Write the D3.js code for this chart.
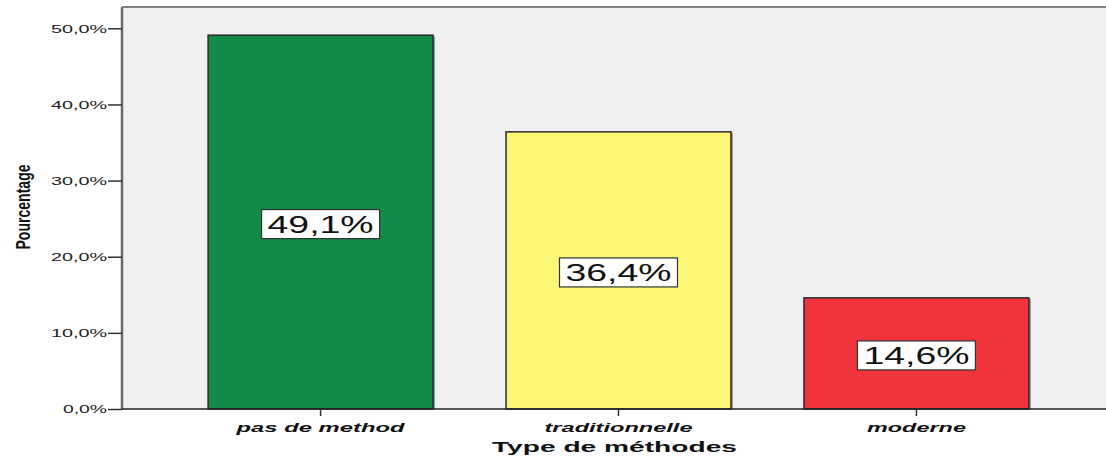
<!DOCTYPE html>
<html>
<head>
<meta charset="utf-8">
<script src="https://cdn.jsdelivr.net/npm/d3@7"></script>
<style>
  html, body { margin: 0; padding: 0; background: #fff; }
  svg { display: block; }
  text { font-family: "Liberation Sans", Arial, sans-serif; }
</style>
</head>
<body>
<svg id="chart" width="1106" height="456"></svg>
<script>
const categories = ["pas de method", "traditionnelle", "moderne"];
const values = [49.1, 36.4, 14.6];
const valueLabels = ["49,1%", "36,4%", "14,6%"];
const colors = ["#108b48", "#fbf775", "#f0323b"];
const yTicks = [0, 10, 20, 30, 40, 50];
const yTickLabels = ["0,0%", "10,0%", "20,0%", "30,0%", "40,0%", "50,0%"];
const xLabelWidths = [168, 148, 99];

(function () {
const svg = d3.select("#chart");
const pLeft = 122, pTop = 7, pBottom = 409, pRight = 1115;

const x = d3.scaleBand().domain(categories).range([pLeft, pRight])
  .paddingInner(0.245).paddingOuter(0.289);
const y = d3.scaleLinear().domain([0, 52.8]).range([pBottom, pTop]);

// plot background
svg.append("rect").attr("x", pLeft).attr("y", pTop)
  .attr("width", 1106 - pLeft).attr("height", pBottom - pTop)
  .attr("fill", "#f0f0f0");
// top & left borders
svg.append("line").attr("x1", pLeft).attr("x2", 1106).attr("y1", pTop).attr("y2", pTop)
  .attr("stroke", "#808080").attr("stroke-width", 2);
svg.append("line").attr("x1", pLeft).attr("x2", pLeft).attr("y1", pTop).attr("y2", pBottom)
  .attr("stroke", "#6a6a6a").attr("stroke-width", 2.5);

// y axis ticks
const yAxis = d3.axisLeft(y).tickValues(yTicks).tickSize(14)
  .tickFormat((d, i) => yTickLabels[i]);
const gy = svg.append("g").attr("transform", `translate(${pLeft},0)`).call(yAxis);
gy.select(".domain").remove();
gy.selectAll(".tick line").attr("stroke", "#333").attr("stroke-width", 1.5);
gy.selectAll(".tick text")
  .attr("x", -15).attr("dy", "0.32em")
  .attr("font-size", 11.5).attr("fill", "#222")
  .attr("textLength", (d, i) => yTickLabels[i].length === 5 ? 56 : 44)
  .attr("lengthAdjust", "spacingAndGlyphs")
  .style("font-family", "'Liberation Sans', Arial, sans-serif");

// bars shadow
svg.append("g").selectAll("rect").data(values).join("rect")
  .attr("x", (d, i) => x(categories[i]) + 2)
  .attr("y", d => y(d) + 1)
  .attr("width", x.bandwidth())
  .attr("height", d => pBottom - y(d) - 1)
  .attr("fill", "#9a9a9a");
// bars
svg.append("g").selectAll("rect").data(values).join("rect")
  .attr("x", (d, i) => x(categories[i]))
  .attr("y", d => y(d))
  .attr("width", x.bandwidth())
  .attr("height", d => pBottom - y(d))
  .attr("fill", (d, i) => colors[i])
  .attr("stroke", "#2a2a2a").attr("stroke-width", 1.5);

// value labels
const lab = svg.append("g").selectAll("g").data(values).join("g")
  .attr("transform", (d, i) => `translate(${x(categories[i]) + x.bandwidth() / 2},${y(d / 2) + 2})`);
lab.append("rect").attr("x", -59).attr("y", -14.5).attr("width", 118).attr("height", 29)
  .attr("fill", "#fff").attr("stroke", "#333").attr("stroke-width", 1.2);
lab.append("text").attr("text-anchor", "middle").attr("y", 8.5)
  .attr("font-size", 23).attr("fill", "#111")
  .attr("textLength", 106).attr("lengthAdjust", "spacingAndGlyphs")
  .text((d, i) => valueLabels[i]);

// x axis
svg.append("line").attr("x1", pLeft).attr("x2", 1106).attr("y1", pBottom).attr("y2", pBottom)
  .attr("stroke", "#222").attr("stroke-width", 1.5);
const xAxis = d3.axisBottom(x).tickSize(7).tickSizeOuter(0);
const gx = svg.append("g").attr("transform", `translate(0,${pBottom})`).call(xAxis);
gx.select(".domain").remove();
gx.selectAll(".tick line").attr("stroke", "#333").attr("stroke-width", 1.5);
gx.selectAll(".tick text")
  .attr("y", 23).attr("dy", 0)
  .attr("font-size", 13).attr("font-weight", "bold").attr("font-style", "italic")
  .attr("fill", "#111")
  .attr("textLength", (d, i) => xLabelWidths[i])
  .attr("lengthAdjust", "spacingAndGlyphs")
  .style("font-family", "'Liberation Sans', Arial, sans-serif");

// axis titles
svg.append("text").attr("x", (pLeft + pRight) / 2 - 4).attr("y", 452)
  .attr("text-anchor", "middle").attr("font-size", 15).attr("font-weight", "bold")
  .attr("fill", "#111").attr("textLength", 245).attr("lengthAdjust", "spacingAndGlyphs")
  .text("Type de méthodes");

svg.append("g").attr("transform", "translate(30,207) scale(1.65,1) rotate(-90)")
  .append("text").attr("text-anchor", "middle")
  .attr("font-size", 12).attr("font-weight", "bold").attr("fill", "#111")
  .attr("textLength", 85).attr("lengthAdjust", "spacingAndGlyphs")
  .text("Pourcentage");
})();
</script>
</body>
</html>
